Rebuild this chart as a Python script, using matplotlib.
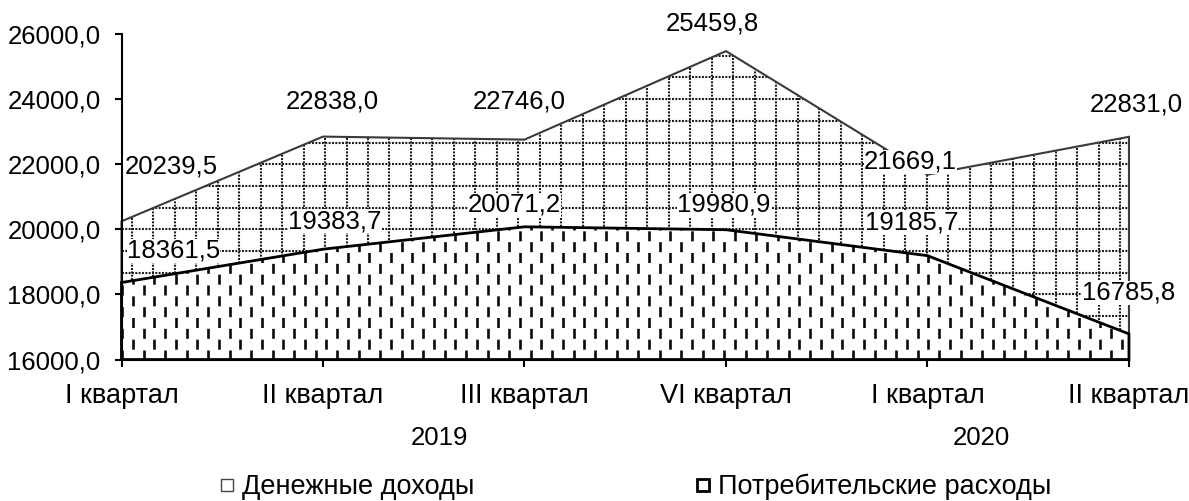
import matplotlib
matplotlib.use('Agg')
import matplotlib.pyplot as plt
from matplotlib.patches import Polygon
from matplotlib.lines import Line2D
from matplotlib.ticker import FuncFormatter

plt.rcParams['font.family'] = ['Liberation Sans', 'DejaVu Sans']
plt.rcParams['font.size'] = 18.5
plt.rcParams['lines.scale_dashes'] = False

quarters = ['I квартал', 'II квартал', 'III квартал', 'VI квартал', 'I квартал', 'II квартал']
years = ['2019', '2020']
income = [20239.5, 22838.0, 22746.0, 25459.8, 21669.1, 22831.0]
expenses = [18361.5, 19383.7, 20071.2, 19980.9, 19185.7, 16785.8]
series_names = ['Денежные доходы', 'Потребительские расходы']

x = list(range(len(quarters)))
ymin, ymax = 16000, 26000

fig = plt.figure(figsize=(11.89, 5.01), dpi=100)
ax = fig.add_axes([0.1022, 0.2824, 0.8473, 0.6507])
ax.set_xlim(0, 5)
ax.set_ylim(ymin, ymax)

ppu = 201.5  # pixels per category step
ppy = 326 / (ymax - ymin)  # pixels per value unit


def area(values, edge, lw, z):
    verts = [(x[0], ymin)] + list(zip(x, values)) + [(x[-1], ymin)]
    poly = Polygon(verts, closed=True, facecolor='white', edgecolor='none', zorder=z)
    ax.add_patch(poly)
    outline = Polygon(verts, closed=True, facecolor='none', edgecolor=edge,
                      linewidth=lw, zorder=z + 0.5, clip_on=False, joinstyle='miter')
    return poly, outline


# income area with dotted grid pattern
p1, o1 = area(income, '#3a3a3a', 1.5, 1)
step = 21.5
hy = [ymin + k * 21.7 / ppy for k in range(1, 16)]
hl = ax.hlines(hy, 0, 5, colors='#1a1a1a', linewidth=1.5,
               linestyles=[(0, (1.4, 1.0))], zorder=1.2)
hl.set_clip_path(p1)
vx = [(10 + k * step) / ppu for k in range(0, 48)]
vl = ax.vlines(vx, ymin, ymax, colors='#1a1a1a', linewidth=1.5,
               linestyles=[(0, (1.4, 1.0))], zorder=1.2)
vl.set_clip_path(p1)

# expenses area with short vertical dashes
p2, o2 = area(expenses, 'black', 2.0, 2)
col = 10.75
for parity in (0, 1):
    xs = [(0.7 + k * col) / ppu for k in range(parity, 95, 2)]
    off = 0 if parity == 0 else 7.8
    dl = ax.vlines(xs, ymin, ymax, colors='#0a0a0a', linewidth=1.9,
                   linestyles=[(off, (7.2, 8.4))], zorder=2.2)
    dl.set_clip_path(p2)

ax.add_patch(o1)
ax.add_patch(o2)

# data labels (offsets in pixels)
inc_off = [(50, 55), (9, 35), (-5, 38), (-14, 28), (-17, 13), (7, 32)]
exp_off = [(52, 32), (12, 28), (-10, 22), (-2, 25), (-16, 33), (0, 41)]
fmt = lambda v: f'{v:.1f}'.replace('.', ',')
for xi, v, o in zip(x, income, inc_off):
    ax.annotate(fmt(v), (xi, v), xytext=o, textcoords='offset pixels',
                ha='center', va='center', zorder=5, annotation_clip=False,
                bbox=dict(boxstyle='square,pad=0.0', fc='white', ec='none'))
for xi, v, o in zip(x, expenses, exp_off):
    ax.annotate(fmt(v), (xi, v), xytext=o, textcoords='offset pixels',
                ha='center', va='center', zorder=5, annotation_clip=False,
                bbox=dict(boxstyle='square,pad=0.0', fc='white', ec='none'))

# axes styling
for s in ['top', 'right']:
    ax.spines[s].set_visible(False)
for s in ['left', 'bottom']:
    ax.spines[s].set_linewidth(1.5)
    ax.spines[s].set_zorder(4)
ax.set_yticks(range(ymin, ymax + 1, 2000))
ax.yaxis.set_major_formatter(FuncFormatter(lambda v, p: fmt(v)))
ax.set_xticks(x)
ax.set_xticklabels(quarters, fontsize=19.5)
ax.tick_params(axis='y', direction='out', length=5, width=1.5, pad=10)
ax.tick_params(axis='x', direction='out', length=5, width=1.5, pad=12)

# year labels under the quarters
year_pos = [1.58, 4.27]
for yp, yr in zip(year_pos, years):
    ax.annotate(yr, (yp, 0), xycoords=('data', 'axes fraction'),
                xytext=(0, -78), textcoords='offset pixels',
                ha='center', va='center', annotation_clip=False)

handles = [Line2D([], [], linestyle='none', marker='s', markersize=9,
                  markerfacecolor='white', markeredgecolor='#444444', markeredgewidth=1.0),
           Line2D([], [], linestyle='none', marker='s', markersize=9,
                  markerfacecolor='white', markeredgecolor='black', markeredgewidth=2.0)]
fig.legend(handles, series_names, loc='center', bbox_to_anchor=(0.535, 0.028),
           ncol=2, frameon=False, fontsize=19.5, handlelength=0.5,
           handletextpad=0.3, columnspacing=8.2, borderpad=0)

fig.savefig('out.png', dpi=100)
